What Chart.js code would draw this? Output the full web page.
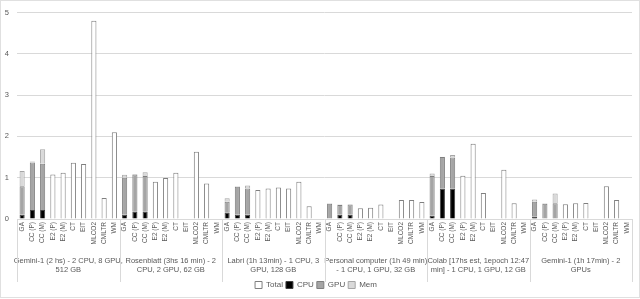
<!DOCTYPE html>
<html>
<head>
<meta charset="utf-8">
<script src="https://cdn.jsdelivr.net/npm/chart.js@4/dist/chart.umd.min.js"></script>
<style>
html,body{margin:0;padding:0;background:#fff;}
#wrap{width:640px;height:299px;position:relative;}
</style>
</head>
<body>
<div id="wrap"><canvas id="c" width="640" height="299"></canvas></div>
<script>
const tools = ['GA','CC (P)','CC (M)','E2 (P)','E2 (M)','CT','EIT','MLCO2','CMLTR','WM'];
const groups = [
  ['Gemini-1 (2 hs) - 2 CPU, 8 GPU,','512 GB'],
  ['Rosenblatt (3hs 16 min) - 2','CPU, 2 GPU, 62 GB'],
  ['Labri (1h 13min) - 1 CPU, 3','GPU, 128 GB'],
  ['Personal computer (1h 49 min)','- 1 CPU, 1 GPU, 32 GB'],
  ['Colab [17hs est, 1epoch 12:47','min] - 1 CPU, 1 GPU, 12 GB'],
  ['Gemini-1 (1h 17min) - 2','GPUs']
];
const yTicks = [0,1,2,3,4,5];

// per group: GA, CC(P), CC(M), E2(P), E2(M), CT, EIT, MLCO2, CMLTR, WM
const totalVals = [
  null,null,null,1.08,1.12,1.36,1.33,4.80,0.51,2.10,
  null,null,null,0.90,0.99,1.12,null,1.63,0.86,null,
  null,null,null,0.70,0.74,0.76,0.74,0.90,0.31,null,
  null,null,null,0.26,0.27,0.35,null,0.46,0.46,0.41,
  null,null,null,1.05,1.82,0.63,null,1.19,0.38,null,
  null,null,null,0.36,0.38,0.39,null,0.79,0.46,null
];
const cpuVals = [
  0.10,0.22,0.22,null,null,null,null,null,null,null,
  0.10,0.18,0.18,null,null,null,null,null,null,null,
  0.16,0.10,0.10,null,null,null,null,null,null,null,
  0.01,0.10,0.10,null,null,null,null,null,null,null,
  0.08,0.74,0.74,null,null,null,null,null,null,null,
  0.06,0.01,0.01,null,null,null,null,null,null,null
];
const gpuVals = [
  0.69,1.15,1.12,null,null,null,null,null,null,null,
  0.90,0.90,0.86,null,null,null,null,null,null,null,
  0.26,0.68,0.64,null,null,null,null,null,null,null,
  0.36,0.24,0.25,null,null,null,null,null,null,null,
  0.96,0.76,0.75,null,null,null,null,null,null,null,
  0.36,0.36,0.37,null,null,null,null,null,null,null
];
const memVals = [
  0.37,0.02,0.35,null,null,null,null,null,null,null,
  0.07,0.01,0.09,null,null,null,null,null,null,null,
  0.08,0.01,0.07,null,null,null,null,null,null,null,
  0.01,0.01,0.01,null,null,null,null,null,null,null,
  0.06,0.01,0.06,null,null,null,null,null,null,null,
  0.05,0.01,0.24,null,null,null,null,null,null,null
];

const labels = [];
groups.forEach(() => tools.forEach(t => labels.push(t)));

const FONT = 'Liberation Sans, Arial, sans-serif';
const TXT = '#595959';

const sepPlugin = {
  id: 'sep',
  afterDraw(chart) {
    const ctx = chart.ctx, x = chart.scales.x, ca = chart.chartArea;
    ctx.save();
    ctx.strokeStyle = '#d9d9d9';
    ctx.lineWidth = 1;
    const n = tools.length;
    for (let g = 0; g <= groups.length; g++) {
      const px = Math.round(x.getPixelForValue(g * n - 0.5)) + 0.5;
      ctx.beginPath();
      ctx.moveTo(px, ca.bottom);
      ctx.lineTo(px, 282);
      ctx.stroke();
    }
    ctx.strokeStyle = '#e0e0e0';
    ctx.strokeRect(0.5, 0.5, chart.width - 1, 297);
    ctx.restore();
  }
};

new Chart(document.getElementById('c'), {
  type: 'bar',
  data: {
    labels: labels,
    datasets: [
      {label:'Total', data: totalVals, backgroundColor:'#ffffff', borderColor:'#7f7f7f', borderWidth:1, stack:'s'},
      {label:'CPU', data: cpuVals, backgroundColor:'#000000', borderColor:'#404040', borderWidth:1, stack:'s'},
      {label:'GPU', data: gpuVals, backgroundColor:'#a5a5a5', borderColor:'#7f7f7f', borderWidth:1, stack:'s'},
      {label:'Mem', data: memVals, backgroundColor:'#d9d9d9', borderColor:'#a5a5a5', borderWidth:1, stack:'s'}
    ]
  },
  options: {
    responsive: false,
    animation: false,
    devicePixelRatio: 1,
    layout: { padding: { left: 0, right: 8, top: 4, bottom: 0 } },
    datasets: { bar: { categoryPercentage: 1.0, barPercentage: 0.5 } },
    plugins: {
      legend: {
        position: 'bottom',
        labels: { boxWidth: 7, boxHeight: 7, padding: 3, color: TXT, font: { family: FONT, size: 8 } }
      },
      tooltip: { enabled: false }
    },
    scales: {
      x: {
        stacked: true,
        grid: { display: false, drawTicks: false },
        border: { display: false },
        ticks: { autoSkip: false, maxRotation: 90, minRotation: 90, padding: 3, color: TXT, font: { family: FONT, size: 6.5 } },
        afterFit(s) { s.height = 33; }
      },
      x2: {
        type: 'category',
        labels: groups,
        position: 'bottom',
        offset: true,
        grid: { display: false, drawTicks: false },
        border: { display: false },
        ticks: { autoSkip: false, maxRotation: 0, minRotation: 0, padding: 4, color: TXT, font: { family: FONT, size: 7.5 } },
        afterFit(s) { s.height = 26; }
      },
      y: {
        stacked: true,
        min: 0, max: 5,
        afterBuildTicks(s) { s.ticks = yTicks.map(v => ({ value: v })); },
        grid: { color: '#d9d9d9', drawTicks: false },
        border: { display: false },
        ticks: { padding: 8, color: TXT, font: { family: FONT, size: 7.5 } },
        afterFit(s) { s.width = 17; }
      }
    }
  },
  plugins: [sepPlugin]
});
</script>
</body>
</html>
